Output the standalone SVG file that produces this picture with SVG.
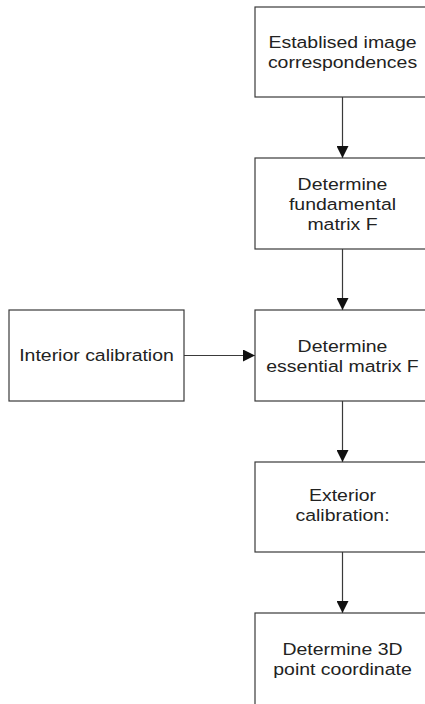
<svg xmlns="http://www.w3.org/2000/svg" width="425" height="704" viewBox="0 0 425 704">
<defs>
<style>
.box{fill:#fff;stroke:#3a3a3a;stroke-width:1.2}
.lbl{font-family:"Liberation Sans",Arial,sans-serif;font-size:16.5px;fill:#222;text-anchor:middle}
.con{stroke:#3a3a3a;stroke-width:1.2;fill:none}
</style>
<marker id="ah" markerWidth="12" markerHeight="12" viewBox="0 0 12 12" refX="12" refY="6" orient="auto" markerUnits="userSpaceOnUse">
<path d="M0,0 L12,6 L0,12 Z" fill="#111"/>
</marker>
</defs>
<rect width="425" height="704" fill="#fff"/>
<g id="connectors">
<line class="con" x1="342.5" y1="97" x2="342.5" y2="158" marker-end="url(#ah)"/>
<line class="con" x1="342.5" y1="249" x2="342.5" y2="310" marker-end="url(#ah)"/>
<line class="con" x1="184" y1="355.5" x2="255" y2="355.5" marker-end="url(#ah)"/>
<line class="con" x1="342.5" y1="401" x2="342.5" y2="462" marker-end="url(#ah)"/>
<line class="con" x1="342.5" y1="552" x2="342.5" y2="613" marker-end="url(#ah)"/>
</g>
<g id="n1">
<rect class="box" x="255" y="7" width="175" height="90"/>
<g transform="translate(342.5 0) scale(1.18 1)">
<text class="lbl" x="0" y="48">Establised image</text>
<text class="lbl" x="0" y="68">correspondences</text>
</g>
</g>
<g id="n2">
<rect class="box" x="255" y="158" width="175" height="91"/>
<g transform="translate(342.5 0) scale(1.18 1)">
<text class="lbl" x="0" y="190">Determine</text>
<text class="lbl" x="0" y="210">fundamental</text>
<text class="lbl" x="0" y="230">matrix F</text>
</g>
</g>
<g id="n3">
<rect class="box" x="9" y="310" width="175" height="91"/>
<g transform="translate(96.5 0) scale(1.18 1)">
<text class="lbl" x="0" y="361">Interior calibration</text>
</g>
</g>
<g id="n4">
<rect class="box" x="255" y="310" width="175" height="91"/>
<g transform="translate(342.5 0) scale(1.18 1)">
<text class="lbl" x="0" y="352">Determine</text>
<text class="lbl" x="0" y="372">essential matrix F</text>
</g>
</g>
<g id="n5">
<rect class="box" x="255" y="462" width="175" height="90"/>
<g transform="translate(342.5 0) scale(1.18 1)">
<text class="lbl" x="0" y="501">Exterior</text>
<text class="lbl" x="0" y="521">calibration:</text>
</g>
</g>
<g id="n6">
<rect class="box" x="255" y="613" width="175" height="100"/>
<g transform="translate(342.5 0) scale(1.18 1)">
<text class="lbl" x="0" y="655">Determine 3D</text>
<text class="lbl" x="0" y="675">point coordinate</text>
</g>
</g>
</svg>
